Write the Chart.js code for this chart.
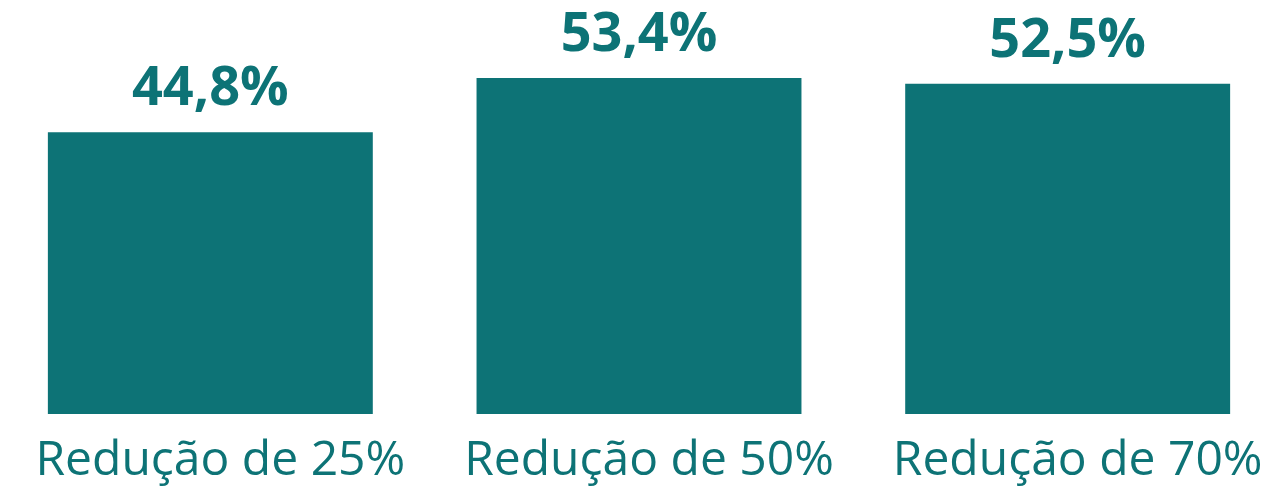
<!DOCTYPE html>
<html lang="pt">
<head>
  <meta charset="UTF-8">
  <title>Redução</title>
  <script src="https://cdn.jsdelivr.net/npm/chart.js"></script>
  <style>
    html, body { margin: 0; padding: 0; background: #fff; overflow: hidden; }
    #wrap { width: 1286px; height: 492px; margin-left: -4px; }
  </style>
</head>
<body>
<div id="wrap"><canvas id="reducaoChart"></canvas></div>
<script>
  // dados
  var categorias = ['Redução de 25%', 'Redução de 50%', 'Redução de 70%'];
  var valores = [44.8, 53.4, 52.5];

  var teal = '#0D7376';

  // rótulos em cima das barras
  var rotulosPlugin = {
    id: 'rotulos',
    afterDatasetsDraw: function(chart) {
      var ctx = chart.ctx;
      var meta = chart.getDatasetMeta(0);
      ctx.save();
      ctx.fillStyle = teal;
      ctx.font = 'bold 54px "Open Sans"';
      ctx.textAlign = 'center';
      ctx.textBaseline = 'alphabetic';
      meta.data.forEach(function(bar, i) {
        var txt = valores[i].toFixed(1).replace('.', ',') + '%';
        ctx.fillText(txt, bar.x, bar.y - 27);
      });
      ctx.restore();
    }
  };

  var ctx = document.getElementById('reducaoChart').getContext('2d');
  new Chart(ctx, {
    type: 'bar',
    data: {
      labels: categorias,
      datasets: [{
        data: valores,
        backgroundColor: teal,
        borderWidth: 0,
        barPercentage: 1,
        categoryPercentage: 0.758
      }]
    },
    options: {
      responsive: true,
      maintainAspectRatio: false,
      animation: false,
      layout: { padding: 0 },
      plugins: { legend: { display: false }, tooltip: { enabled: false } },
      scales: {
        y: { display: false, min: 0, max: 65.8 },
        x: {
          grid: { display: false, drawTicks: false },
          border: { display: false },
          ticks: {
            color: teal,
            font: { family: '"Open Sans"', size: 48 },
            padding: 19,
            labelOffset: 10,
            maxRotation: 0,
            autoSkip: false
          },
          afterFit: function(scale) { scale.height = 78; }
        }
      }
    },
    plugins: [rotulosPlugin]
  });
</script>
</body>
</html>
